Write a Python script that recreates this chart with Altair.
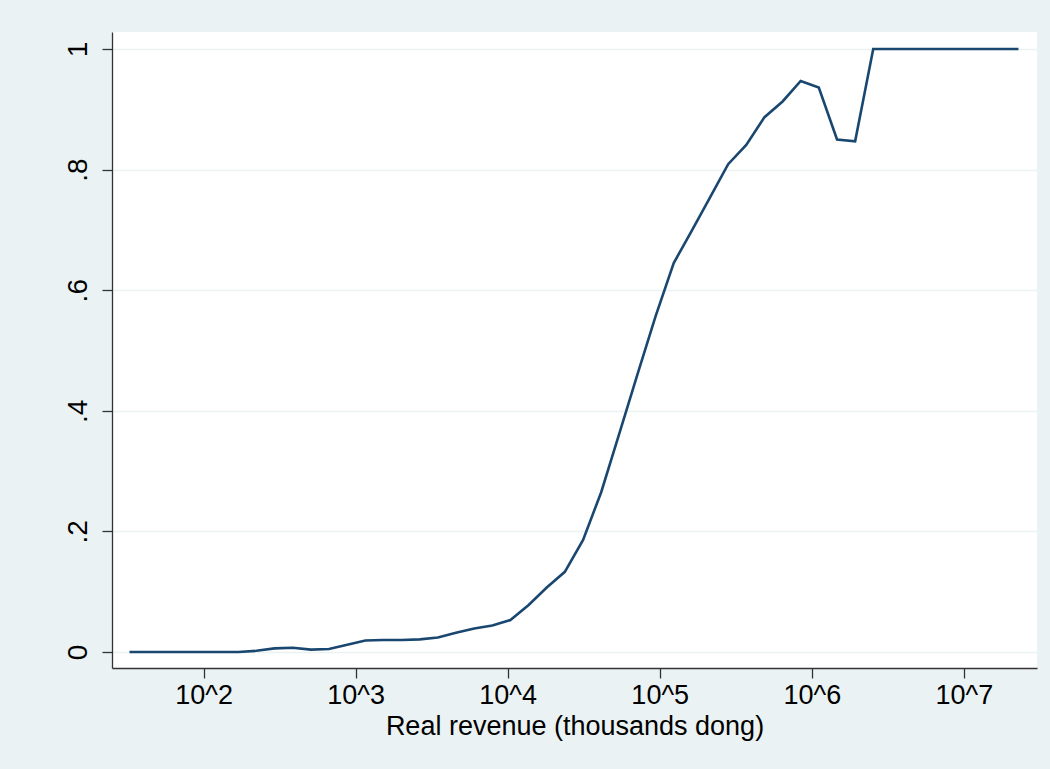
import altair as alt
import pandas as pd

# Revenue bins on a log10 scale (thousands dong) and the share observed in each bin
log10_revenue = [
    1.513, 1.632, 1.752, 1.871, 1.990, 2.110, 2.229, 2.348, 2.467, 2.587,
    2.706, 2.825, 2.945, 3.064, 3.183, 3.303, 3.422, 3.541, 3.660, 3.780,
    3.899, 4.018, 4.138, 4.257, 4.376, 4.496, 4.615, 4.734, 4.853, 4.973,
    5.092, 5.211, 5.331, 5.450, 5.569, 5.689, 5.808, 5.927, 6.046, 6.166,
    6.285, 6.404, 6.524, 6.643, 6.762, 6.882, 7.001, 7.120, 7.239, 7.359,
]
share = [
    0.0, 0.0, 0.0, 0.0, 0.0, 0.0, 0.0, 0.002, 0.006, 0.007,
    0.004, 0.005, 0.012, 0.019, 0.020, 0.020, 0.021, 0.024, 0.032, 0.039,
    0.044, 0.053, 0.078, 0.107, 0.133, 0.186, 0.265, 0.362, 0.460, 0.557,
    0.645, 0.699, 0.754, 0.809, 0.841, 0.887, 0.913, 0.947, 0.936, 0.850,
    0.847, 1.0, 1.0, 1.0, 1.0, 1.0, 1.0, 1.0, 1.0, 1.0,
]

x_ticks = [2, 3, 4, 5, 6, 7]
y_ticks = [0, 0.2, 0.4, 0.6, 0.8, 1]

df = pd.DataFrame({"logrev": log10_revenue, "share": share})

FONT = "Liberation Sans"
BG = "#EAF2F3"
NAVY = "#1A476F"

chart = (
    alt.Chart(df)
    .mark_line(color=NAVY, strokeWidth=2.6)
    .encode(
        x=alt.X(
            "logrev:Q",
            scale=alt.Scale(domain=[1.398, 7.481], nice=False, zero=False),
            axis=alt.Axis(
                values=x_ticks,
                labelExpr="'10^' + datum.value",
                title="Real revenue (thousands dong)",
                grid=False,
                domainColor="#333333",
                domainWidth=1.3,
                tickColor="#333333",
                tickWidth=1.3,
                tickSize=10,
                labelPadding=4,
                labelFontSize=27,
                labelFont=FONT,
                labelColor="#000000",
                titleFont=FONT,
                titleFontSize=27,
                titleFontWeight="normal",
                titleColor="#000000",
                titlePadding=5,
            ),
        ),
        y=alt.Y(
            "share:Q",
            scale=alt.Scale(domain=[-0.0265, 1.0282], nice=False, zero=False),
            axis=alt.Axis(
                values=y_ticks,
                labelExpr="datum.value == 0 ? '0' : datum.value == 1 ? '1' : replace(format(datum.value, '.1f'), '0.', '.')",
                title=None,
                grid=True,
                gridColor=BG,
                gridWidth=1.6,
                domainColor="#333333",
                domainWidth=1.3,
                tickColor="#333333",
                tickWidth=1.3,
                tickSize=10,
                labelAngle=270,
                labelAlign="center",
                labelBaseline="bottom",
                labelPadding=10,
                labelFontSize=28,
                labelFont=FONT,
                labelColor="#000000",
            ),
        ),
    )
    .properties(
        width=925,
        height=636,
        background=BG,
        padding={"left": 112, "top": 32, "right": 13, "bottom": 101},
        autosize=alt.AutoSizeParams(type="none"),
    )
    .configure_view(fill="white", stroke=None)
)

chart.save("out.html", embed_options={"renderer": "svg", "actions": False})
